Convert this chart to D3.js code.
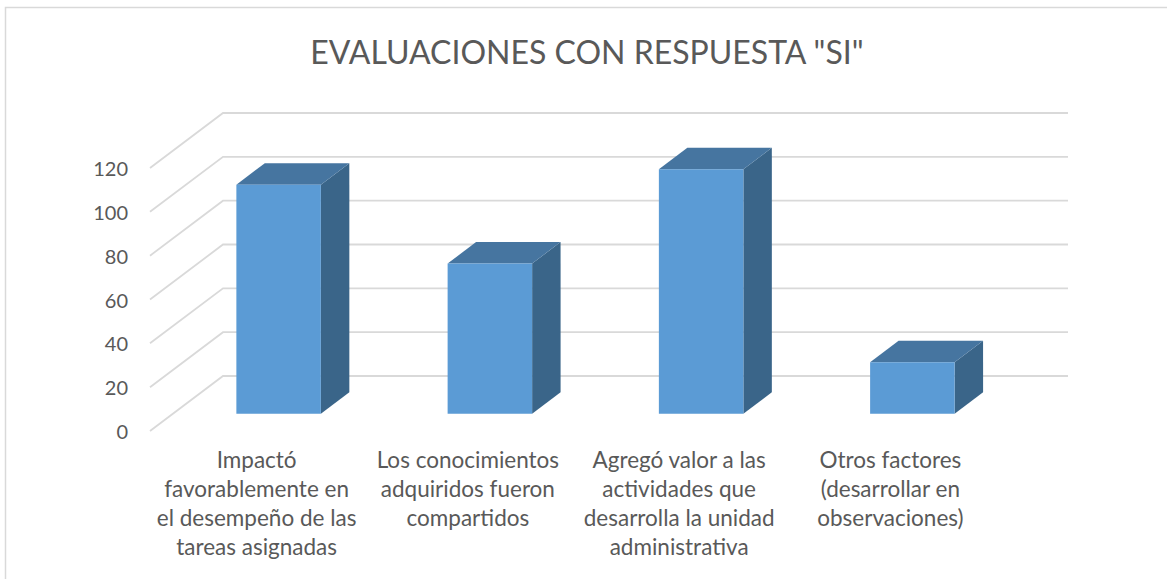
<!DOCTYPE html>
<html>
    <head>
        <meta charset='UTF-8'>
        <script src="https://d3js.org/d3.v7.min.js"></script>
        <style>
            html, body { margin: 0; padding: 0; background: #fff; overflow: hidden; }
            text { font-family: Lato, "Open Sans", sans-serif; fill: #595959; }
        </style>
    </head>
    <body>
        <svg id="chart" width="1167" height="579"></svg>
        <script>
            // values
            const categories = [
                "Impactó favorablemente en el desempeño de las tareas asignadas",
                "Los conocimientos adquiridos fueron compartidos",
                "Agregó valor a las actividades que desarrolla la unidad administrativa",
                "Otros factores (desarrollar en observaciones)"
            ];
            const categoryLines = [
                ["Impactó", "favorablemente en", "el desempeño de las", "tareas asignadas"],
                ["Los conocimientos", "adquiridos fueron", "compartidos"],
                ["Agregó valor a las", "actividades que", "desarrolla la unidad", "administrativa"],
                ["Otros factores", "(desarrollar en", "observaciones)"]
            ];
            const values = [104.5, 68.5, 111.5, 23.5];
            const yTicks = [0, 20, 40, 60, 80, 100, 120];
            const title = 'EVALUACIONES CON RESPUESTA "SI"';

            const svg = d3.select("svg#chart");

            // front edge of the floor, the back wall sits up and right of it
            const floorLeft = 150;
            const floorBase = 431;
            const depthX = 73;
            const depthY = 55;
            const plotWidth = 845;

            // bars stand part way into the floor and are this deep
            const barInset = 0.315;
            const barDepth = 0.39;

            const yScale = d3.scaleLinear().domain([0, 120]).range([0, -263]);
            const xScale = d3.scaleBand()
                             .domain(categories)
                             .range([0, plotWidth])
                             .paddingInner(0.6)
                             .paddingOuter(0.3);

            // x along the width, v up the value axis, z into the depth (0 to 1)
            const px = (x, v, z) => [floorLeft + x + z * depthX, floorBase + yScale(v) - z * depthY];
            const poly = (pts) => pts.map(p => p.join(",")).join(" ");

            // outer frame, only top and left show in the crop
            svg.append("path")
               .attr("d", "M5.5,579V7.5H1167")
               .attr("fill", "none")
               .attr("stroke", "#d9d9d9")
               .attr("stroke-width", 1.5);

            svg.append("text")
               .attr("x", 587)
               .attr("y", 64)
               .attr("text-anchor", "middle")
               .style("font-size", "32px")
               .text(title);

            // gridlines, side wall then back wall
            yTicks.forEach(t => {
                const a = px(0, t, 0), b = px(0, t, 1), c = px(plotWidth, t, 1);
                svg.append("polyline")
                   .attr("points", poly([a, b, c]))
                   .attr("fill", "none")
                   .attr("stroke", "#d9d9d9")
                   .attr("stroke-width", 1.8);
                svg.append("text")
                   .attr("x", 128)
                   .attr("y", a[1] + 8)
                   .attr("text-anchor", "end")
                   .style("font-size", "20px")
                   .text(t);
            });

            // bars
            categories.forEach((c, i) => {
                const x0 = xScale(c), x1 = x0 + xScale.bandwidth();
                const v = values[i];
                const z0 = barInset, z1 = barInset + barDepth;
                svg.append("polygon")
                   .attr("points", poly([px(x1, 0, z0), px(x1, 0, z1), px(x1, v, z1), px(x1, v, z0)]))
                   .attr("fill", "#3a6589");
                svg.append("polygon")
                   .attr("points", poly([px(x0, v, z0), px(x1, v, z0), px(x1, v, z1), px(x0, v, z1)]))
                   .attr("fill", "#4675a0");
                svg.append("polygon")
                   .attr("points", poly([px(x0, 0, z0), px(x1, 0, z0), px(x1, v, z0), px(x0, v, z0)]))
                   .attr("fill", "#5b9bd5");
            });

            // category labels
            categories.forEach((c, i) => {
                const label = svg.append("text")
                                 .attr("text-anchor", "middle")
                                 .style("font-size", "22.5px");
                categoryLines[i].forEach((line, j) => {
                    label.append("tspan")
                         .attr("x", floorLeft + xScale(c) + xScale.bandwidth() / 2 + 1)
                         .attr("y", 468 + j * 29)
                         .text(line);
                });
            });
        </script>
    </body>
</html>
